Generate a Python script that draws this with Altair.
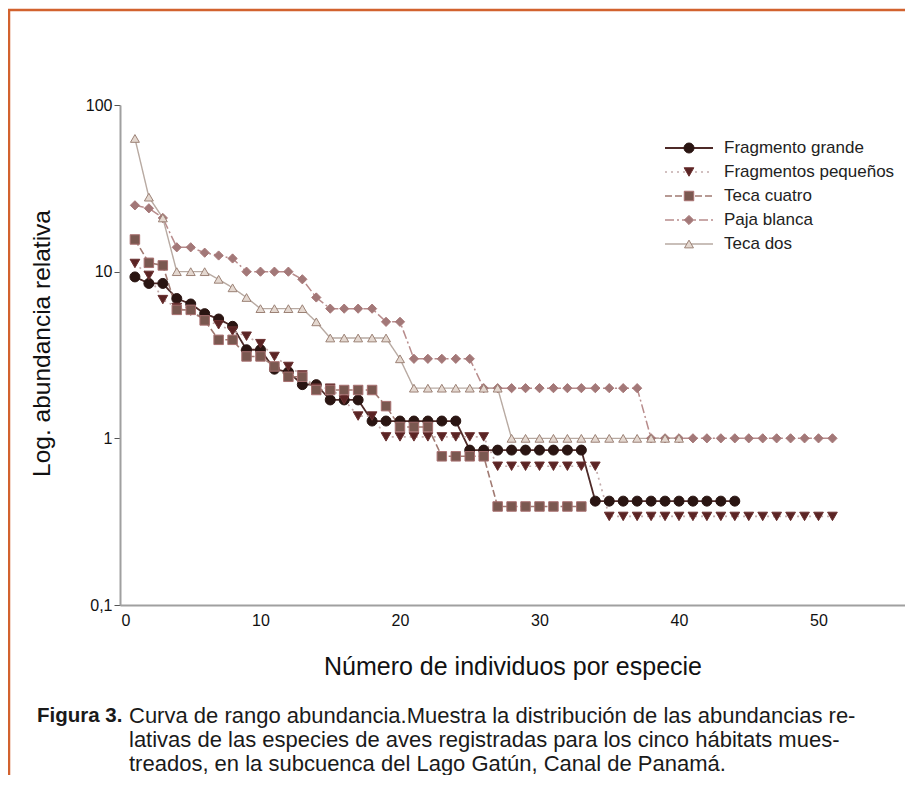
import altair as alt
import pandas as pd

series_names = ["Fragmento grande", "Fragmentos pequeños", "Teca cuatro", "Paja blanca", "Teca dos"]

fragmento_grande = [9.3, 8.5, 8.5, 6.9, 6.4, 5.6, 5.2, 4.7, 3.4, 3.4, 2.6, 2.5, 2.1, 2.1, 1.7, 1.7, 1.7,
                    1.27, 1.27, 1.27, 1.27, 1.27, 1.27, 1.27,
                    0.85, 0.85, 0.85, 0.85, 0.85, 0.85, 0.85, 0.85, 0.85,
                    0.42, 0.42, 0.42, 0.42, 0.42, 0.42, 0.42, 0.42, 0.42, 0.42, 0.42]
fragmentos_pequenos = [11.2, 9.5, 6.8, 6.1, 5.8, 5.1, 4.8, 4.4, 4.1, 3.7, 3.1, 2.7, 2.4, 2.0, 2.0, 1.7, 1.36, 1.36,
                       1.02, 1.02, 1.02, 1.02, 1.02, 1.02, 1.02, 1.02,
                       0.68, 0.68, 0.68, 0.68, 0.68, 0.68, 0.68, 0.68,
                       0.34, 0.34, 0.34, 0.34, 0.34, 0.34, 0.34, 0.34, 0.34, 0.34, 0.34, 0.34, 0.34, 0.34,
                       0.34, 0.34, 0.34]
teca_cuatro = [15.6, 11.3, 10.9, 5.9, 5.9, 5.1, 3.9, 3.9, 3.1, 3.1, 2.7, 2.34, 2.34,
               1.95, 1.95, 1.95, 1.95, 1.95, 1.56, 1.17, 1.17, 1.17,
               0.78, 0.78, 0.78, 0.78,
               0.39, 0.39, 0.39, 0.39, 0.39, 0.39, 0.39]
paja_blanca = [25, 24, 21, 14, 14, 13, 12.5, 12, 10, 10, 10, 10, 9, 7, 6, 6, 6, 6, 5, 5,
               3, 3, 3, 3, 3,
               2, 2, 2, 2, 2, 2, 2, 2, 2, 2, 2, 2,
               1, 1, 1, 1, 1, 1, 1, 1, 1, 1, 1, 1, 1, 1]
teca_dos = [63, 28, 21, 10, 10, 10, 9, 8, 7, 6, 6, 6, 6, 5, 4, 4, 4, 4, 4, 3,
            2, 2, 2, 2, 2, 2, 2,
            1, 1, 1, 1, 1, 1, 1, 1, 1, 1, 1, 1, 1]

x_ticks = [0, 10, 20, 30, 40, 50]
y_ticks = [0.1, 1, 10, 100]

caption_bold = "Figura 3."
caption_lines = [
    "Curva de rango abundancia.Muestra la distribución de las abundancias re-",
    "lativas de las especies de aves registradas para los cinco hábitats mues-",
    "treados, en la subcuenca del Lago Gatún, Canal de Panamá.",
]

# ---- styles ----
line_colors = ["#4e2a28", "#c4acac", "#a07a72", "#b88c8c", "#b8aaa2"]
line_dashes = [[1, 0], [2, 4], [7, 3], [9, 3, 2, 3], [1, 0]]
line_widths = [1.8, 1.4, 1.4, 1.4, 1.4]
shapes = ["circle", "triangle-down", "square", "diamond", "triangle-up"]
fills = ["#2a1512", "#5a2424", "#7a5850", "#a27878", "#e4d8d0"]
strokes = ["#2a1512", "#6a3030", "#a87070", "#a87878", "#9c8276"]
sizes = [100, 80, 80, 95, 90]

FONT = "Liberation Sans"

all_series = [fragmento_grande, fragmentos_pequenos, teca_cuatro, paja_blanca, teca_dos]
rows = []
for name, vals in zip(series_names, all_series):
    for i, v in enumerate(vals):
        rows.append({"series": name, "rank": i + 1, "value": v})
df = pd.DataFrame(rows)

W, H = 785, 500

col = alt.Color("series:N", scale=alt.Scale(domain=series_names, range=line_colors), legend=None)
dash = alt.StrokeDash("series:N", scale=alt.Scale(domain=series_names, range=line_dashes), legend=None)
swidth = alt.StrokeWidth("series:N", scale=alt.Scale(domain=series_names, range=line_widths), legend=None)
shp = alt.Shape("series:N", scale=alt.Scale(domain=series_names, range=shapes), legend=None)
fil = alt.Fill("series:N", scale=alt.Scale(domain=series_names, range=fills), legend=None)
stk = alt.Stroke("series:N", scale=alt.Scale(domain=series_names, range=strokes), legend=None)
siz = alt.Size("series:N", scale=alt.Scale(domain=series_names, range=sizes), legend=None)

xenc = alt.X("rank:Q",
             scale=alt.Scale(domain=[-0.07, 56.2], nice=False, zero=False),
             axis=alt.Axis(values=x_ticks, title="Número de individuos por especie",
                           ticks=False, grid=False, labelPadding=7, titlePadding=26,
                           domainColor="#a0a0a0", domainWidth=2,
                           labelFont=FONT, titleFont=FONT, labelFontSize=16, titleFontSize=25,
                           labelColor="#111111", titleColor="#111111", titleFontWeight="normal"))
yenc = alt.Y("value:Q",
             scale=alt.Scale(type="log", domain=[0.1, 100], nice=False),
             axis=alt.Axis(values=y_ticks, title="Log. abundancia relativa",
                           labelExpr="datum.value < 1 ? '0,1' : format(datum.value, 'd')",
                           tickSize=6, tickColor="#555555", grid=False, labelPadding=2,
                           titlePadding=31, titleY=238, domainColor="#a0a0a0", domainWidth=2,
                           labelFont=FONT, titleFont=FONT, labelFontSize=16, titleFontSize=24.5,
                           labelColor="#111111", titleColor="#111111", titleFontWeight="normal"))

lines = alt.Chart(df).mark_line().encode(
    x=xenc, y=yenc, color=col, strokeDash=dash, strokeWidth=swidth, detail="series:N")
points = alt.Chart(df).mark_point(filled=True, opacity=1, strokeWidth=1).encode(
    x="rank:Q", y="value:Q", shape=shp, fill=fil, stroke=stk, size=siz)

# ---- manual legend ----
leg_y0, leg_dy = 43, 24
leg = pd.DataFrame({
    "series": series_names,
    "ly": [leg_y0 + i * leg_dy for i in range(len(series_names))],
})
leg["lx1"] = 545
leg["lx2"] = 593
leg["mx"] = 569
leg["tx"] = 604

leg_rule = alt.Chart(leg).mark_rule().encode(
    x=alt.X("lx1:Q", scale=None), x2="lx2:Q", y=alt.Y("ly:Q", scale=None),
    color=col, strokeDash=dash, strokeWidth=swidth)
leg_pt = alt.Chart(leg).mark_point(filled=True, opacity=1, strokeWidth=1).encode(
    x=alt.X("mx:Q", scale=None), y=alt.Y("ly:Q", scale=None),
    shape=shp, fill=fil, stroke=stk, size=siz)
leg_txt = alt.Chart(leg).mark_text(align="left", baseline="middle", font=FONT,
                                   fontSize=17, color="#222222").encode(
    x=alt.X("tx:Q", scale=None), y=alt.Y("ly:Q", scale=None), text="series:N")

# ---- caption ----
cap = pd.DataFrame({"text": caption_lines, "ty": [611, 635, 659]})
cap["tx"] = 9
cap_txt = alt.Chart(cap).mark_text(align="left", baseline="middle", font=FONT,
                                   fontSize=22, color="#1a1a1a").encode(
    x=alt.X("tx:Q", scale=None), y=alt.Y("ty:Q", scale=None), text="text:N")
cap_b = pd.DataFrame({"text": [caption_bold], "ty": [611], "tx": [-83]})
cap_bold = alt.Chart(cap_b).mark_text(align="left", baseline="middle", font=FONT,
                                      fontSize=20.5, fontWeight="bold", color="#1a1a1a").encode(
    x=alt.X("tx:Q", scale=None), y=alt.Y("ty:Q", scale=None), text="text:N")

# ---- decorative frame ----
frame = pd.DataFrame({"x1": [-112, -111], "x2": [W + 10, -111], "y1": [-95, -96], "y2": [-95, H + 175]})
frame_rule = alt.Chart(frame).mark_rule(color="#d2622e", strokeWidth=2.5).encode(
    x=alt.X("x1:Q", scale=None), x2="x2:Q", y=alt.Y("y1:Q", scale=None), y2="y2:Q")

chart = alt.layer(lines, points, leg_rule, leg_pt, leg_txt, cap_txt, cap_bold, frame_rule).properties(
    width=W, height=H,
    background="white",
    autosize=alt.AutoSizeParams(type="none"),
    padding={"left": 112, "top": 97, "right": 0, "bottom": 170},
).configure_view(stroke=None)

chart.save("out.html", embed_options={"renderer": "svg", "actions": False})
